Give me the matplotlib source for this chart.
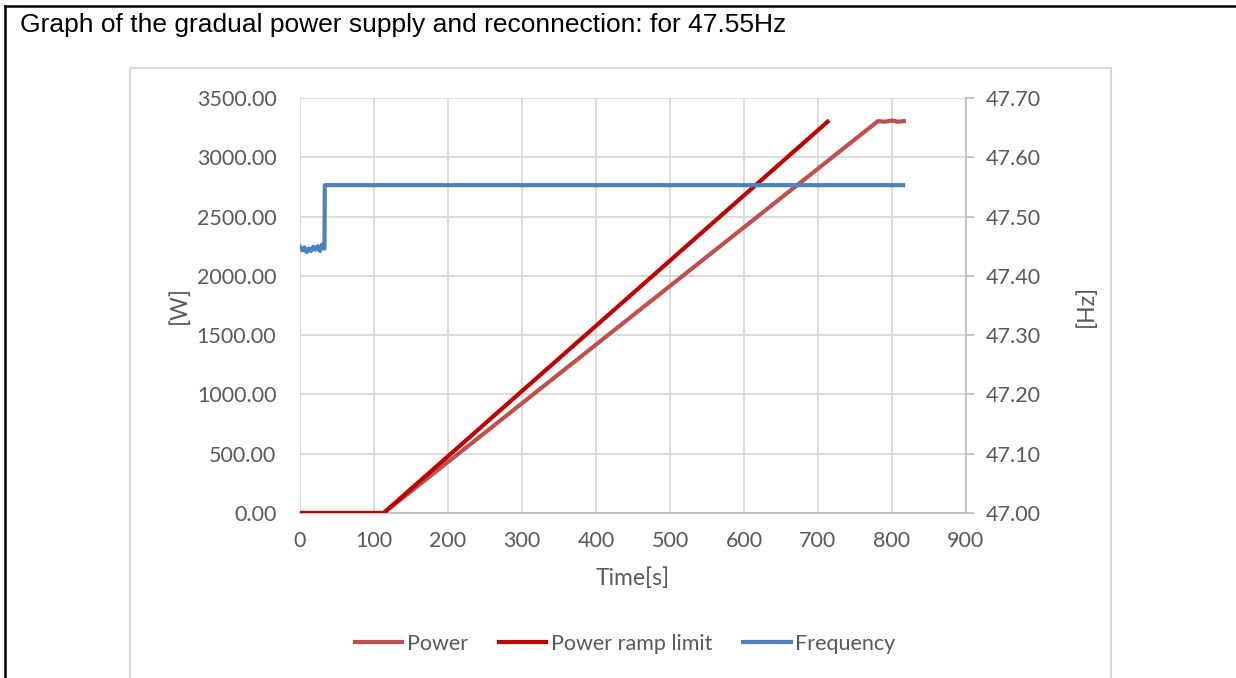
import matplotlib
matplotlib.use("Agg")
import matplotlib.pyplot as plt
from matplotlib.patches import Rectangle
from matplotlib.lines import Line2D
from matplotlib.ticker import FormatStrFormatter

# ---------------------------------------------------------------
# Data
# ---------------------------------------------------------------
power_t = [0, 113, 781, 790, 800, 808, 816]
power_w = [0, 0, 3305, 3300, 3310, 3300, 3305]

ramp_t = [0, 113, 713]
ramp_w = [0, 0, 3300]

freq_t = [0, 3, 6, 9, 12, 15, 18, 21, 24, 27, 30, 33, 33.5, 815]
freq_hz = [47.449, 47.443, 47.448, 47.440, 47.446, 47.442, 47.449, 47.444, 47.450,
           47.442, 47.453, 47.446, 47.553, 47.553]

title = "Graph of the gradual power supply and reconnection: for 47.55Hz"

C_POWER = "#C0504D"
C_RAMP = "#C00000"
C_FREQ = "#4F81BD"
C_TEXT = "#595959"
C_GRID = "#D9D9D9"
C_AXIS = "#BFBFBF"

plt.rcParams.update({"font.family": ["Lato", "DejaVu Sans"], "font.size": 15.5})

fig = plt.figure(figsize=(12.36, 6.78), dpi=100)

# chart area frame and outer table border
fig.patches.append(Rectangle((130 / 1236, -0.05), (1111 - 130) / 1236, 0.05 + (1 - 68 / 678),
                             transform=fig.transFigure, fill=False, edgecolor=C_GRID, lw=1.5))
fig.add_artist(Line2D([5 / 1236, 1], [1 - 6 / 678] * 2, transform=fig.transFigure, color="black", lw=1.8))
fig.add_artist(Line2D([5 / 1236] * 2, [0, 1 - 6 / 678], transform=fig.transFigure, color="black", lw=1.8))
fig.text(20 / 1236, 1 - 25 / 678, title, family="Liberation Sans", fontsize=19, va="center", ha="left")

ax = fig.add_axes([300 / 1236, 1 - 513 / 678, 666 / 1236, 415 / 678])
ax.plot(power_t, power_w, color=C_POWER, lw=3, label="Power", zorder=3)
ax.plot(ramp_t, ramp_w, color=C_RAMP, lw=3, label="Power ramp limit", zorder=4)
ax.set_xlim(0, 900)
ax.set_ylim(0, 3500)
ax.set_xticks(range(0, 1000, 100))
ax.set_yticks(range(0, 4000, 500))
ax.yaxis.set_major_formatter(FormatStrFormatter("%.2f"))
ax.grid(True, color=C_GRID, lw=1.3)
ax.set_axisbelow(True)
for s in ["top", "left", "right"]:
    ax.spines[s].set_visible(False)
ax.spines["bottom"].set_color(C_AXIS)
ax.spines["bottom"].set_linewidth(1.3)
ax.tick_params(axis="both", length=0, colors=C_TEXT, labelsize=15.5)
ax.tick_params(axis="x", pad=13)
ax.tick_params(axis="y", pad=17)
ax.set_xlabel("Time[s]", color=C_TEXT, fontsize=16.5, labelpad=12)
ax.set_ylabel("[W]", color=C_TEXT, fontsize=16.5, labelpad=5)

ax2 = ax.twinx()
ax2.plot(freq_t, freq_hz, color=C_FREQ, lw=3, label="Frequency", zorder=3)
ax2.set_ylim(47.0, 47.7)
ax2.set_yticks([47.0, 47.1, 47.2, 47.3, 47.4, 47.5, 47.6, 47.7])
ax2.yaxis.set_major_formatter(FormatStrFormatter("%.2f"))
for s in ["top", "left", "bottom"]:
    ax2.spines[s].set_visible(False)
ax2.spines["right"].set_color(C_AXIS)
ax2.spines["right"].set_linewidth(1.3)
ax2.tick_params(axis="y", direction="out", length=6, width=1.3, color=C_AXIS,
                labelcolor=C_TEXT, labelsize=15.5, pad=8)
ax2.set_ylabel("[Hz]", color=C_TEXT, fontsize=16.5, rotation=90, labelpad=25)

handles = ax.get_lines() + ax2.get_lines()
fig.legend(handles, [h.get_label() for h in handles], loc="center", ncol=3,
           bbox_to_anchor=(625 / 1236, 1 - 644 / 678), frameon=False, fontsize=15.5,
           handlelength=2.2, handletextpad=0.2, columnspacing=1.45, labelcolor=C_TEXT)

fig.savefig("out.png", dpi=100)
